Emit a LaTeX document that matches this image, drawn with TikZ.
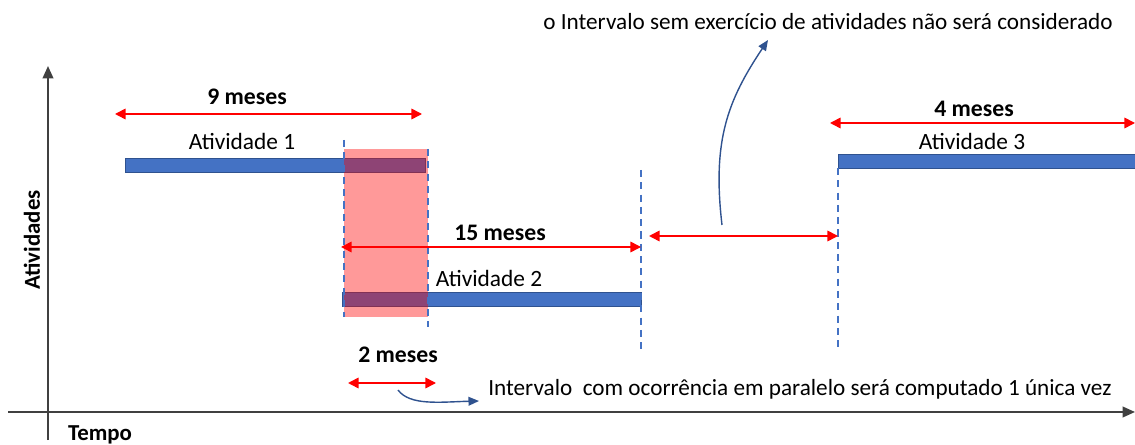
\documentclass[tikz,border=0pt]{standalone}
\usepackage{fontspec}
\setmainfont{Carlito}
\usetikzlibrary{arrows.meta}

\definecolor{barblue}{HTML}{4472C4}
\definecolor{barline}{HTML}{2F528F}
\definecolor{axisgray}{HTML}{404040}

\begin{document}
\begin{tikzpicture}[x=0.02cm, y=-0.02cm,
    bar/.style={fill=barblue, draw=barline, line width=0.4pt},
    span/.style={red, line width=0.9pt,
      {Triangle[length=6pt,width=6pt]}-{Triangle[length=6pt,width=6pt]}},
    guide/.style={barblue, line width=0.7pt, dash pattern=on 4pt off 3pt},
    pointer/.style={barline, line width=0.8pt, -{Triangle[length=6pt,width=5pt]}},
    lbl/.style={font=\fontsize{13.3}{15}\selectfont, inner sep=0pt},
    dur/.style={font=\fontsize{13.5}{16}\selectfont\bfseries, inner sep=0pt},
    note/.style={font=\fontsize{13.2}{15}\selectfont, inner sep=0pt, anchor=west}]
    \useasboundingbox (0,0) rectangle (1135,445);

    % Axes
    \coordinate (ybot) at (48,440);
    \coordinate (ytop) at (48,66);
    \coordinate (xleft) at (8,412);
    \coordinate (xright) at (1135,412);
    \draw[axisgray, line width=1.1pt, -{Triangle[length=7pt,width=6pt]}] (ybot) to (ytop);
    \draw[axisgray, line width=1.1pt, -{Triangle[length=7pt,width=6pt]}] (xleft) to (xright);
    \node[font=\fontsize{13}{15}\selectfont\bfseries, rotate=90] (ylab) at (32,240) {Atividades};
    \node[font=\fontsize{13}{15}\selectfont\bfseries] (xlab) at (100,435) {Tempo};

    % Activity bars
    \foreach \i/\xa/\xb/\ya in {1/125/425/158, 2/342/641/292, 3/838/1135/154}
      \draw[bar] (\xa,\ya) rectangle (\xb,\ya+14);

    % Parallel interval
    \fill[red, opacity=0.4] (344,149) rectangle (428,317);

    % Dashed guides
    \foreach \x/\ya/\yb in {344/140/317, 428/149/327, 641/170/350, 838/168/350}
      \draw[guide] (\x,\ya) -- (\x,\yb);

    % Durations
    \foreach \n/\xa/\xb/\y in {s9/115/422/114, s15/341/641/247, gap/649/838/236,
                               s4/830/1135/123, s2/348/436/383} {
      \coordinate (\n l) at (\xa,\y);
      \coordinate (\n r) at (\xb,\y);
      \draw[span] (\n l) to (\n r);
    }

    \node[dur] (d9) at (247,97) {9 meses};
    \node[dur] (d15) at (500,233) {15 meses};
    \node[dur] (d4) at (974,109) {4 meses};
    \node[dur] (d2) at (398,355) {2 meses};

    \node[lbl] (a1) at (242,141) {Atividade 1};
    \node[lbl] (a2) at (489,278) {Atividade 2};
    \node[lbl] (a3) at (972,141) {Atividade 3};

    % Notes
    \node[note] (n1) at (543,22) {o Intervalo sem exercício de atividades não será considerado};
    \node[note] (n2) at (488,389) {Intervalo\ \ com ocorrência em paralelo será computado 1 única vez};

    \coordinate (p1a) at (722,225);
    \coordinate (p1b) at (768,40);
    \coordinate (p2a) at (398,390);
    \coordinate (p2b) at (479,401);
    \draw[pointer] (p1a) .. controls (712,140) and (728,100) .. (p1b);
    \draw[pointer] (p2a) .. controls (410,406) and (440,402) .. (p2b);
  \end{tikzpicture}
\end{document}
